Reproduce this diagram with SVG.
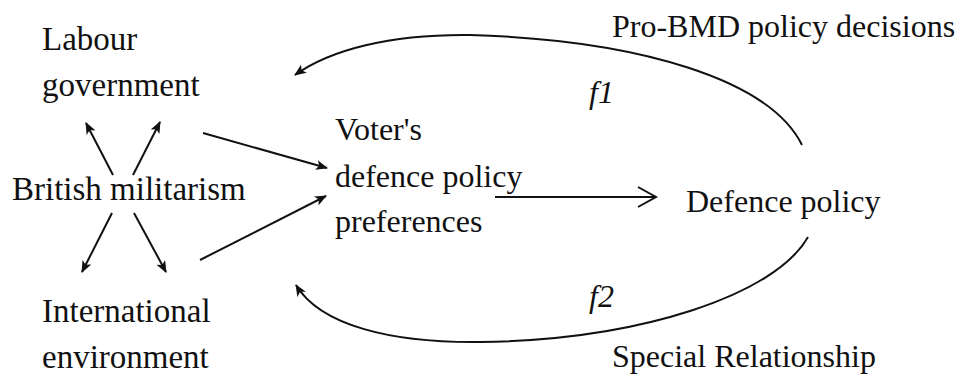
<svg xmlns="http://www.w3.org/2000/svg" width="963" height="378" viewBox="0 0 963 378">
<defs>
<style>
text{font-family:"Liberation Serif","Times New Roman",serif;font-size:32px;fill:#111}
.l{font-size:33px}
.it{font-style:italic}
.c{fill:none;stroke:#111;stroke-width:2}
</style>
<marker id="ah" viewBox="0 0 12 10" refX="11" refY="5" markerWidth="12" markerHeight="10" markerUnits="userSpaceOnUse" orient="auto">
<path d="M0,0 L12,5 L0,10 L3,5 Z" fill="#111"/>
</marker>
</defs>
<rect width="963" height="378" fill="#fff"/>
<g id="labour"><text class="l" x="42" y="50">Labour</text><text class="l" x="42" y="96">government</text></g>
<g id="militarism"><text class="l" x="12" y="200">British militarism</text></g>
<g id="international"><text class="l" x="42" y="322">International</text><text class="l" x="42" y="368">environment</text></g>
<g id="voter"><text x="335" y="140">Voter's</text><text x="335" y="187">defence policy</text><text x="335" y="232">preferences</text></g>
<g id="defence"><text x="686" y="212">Defence policy</text></g>
<g id="probmd"><text x="612" y="37">Pro-BMD policy decisions</text></g>
<g id="special"><text x="612" y="367">Special Relationship</text></g>
<g id="f1"><text class="it" x="589" y="103">f1</text></g>
<g id="f2"><text class="it" x="589" y="307">f2</text></g>
<g id="connectors">
<line class="c" x1="113" y1="175" x2="86" y2="123" marker-end="url(#ah)"/>
<line class="c" x1="133" y1="175" x2="160" y2="122" marker-end="url(#ah)"/>
<line class="c" x1="112" y1="213" x2="82" y2="272" marker-end="url(#ah)"/>
<line class="c" x1="134" y1="213" x2="166" y2="272" marker-end="url(#ah)"/>
<line class="c" x1="203" y1="133" x2="327" y2="168" marker-end="url(#ah)"/>
<line class="c" x1="200" y1="260" x2="326" y2="196" marker-end="url(#ah)"/>
<line class="c" x1="495" y1="197" x2="655" y2="197"/>
<polyline class="c" points="638,187 656,197 638,207"/>
<path class="c" d="M802,145 C770,80 640,40 470,35 C390,34 330,50 295,75" marker-end="url(#ah)"/>
<path class="c" d="M808,237 C775,295 640,340 480,342 C390,343 320,325 296,285" marker-end="url(#ah)"/>
</g>
</svg>
